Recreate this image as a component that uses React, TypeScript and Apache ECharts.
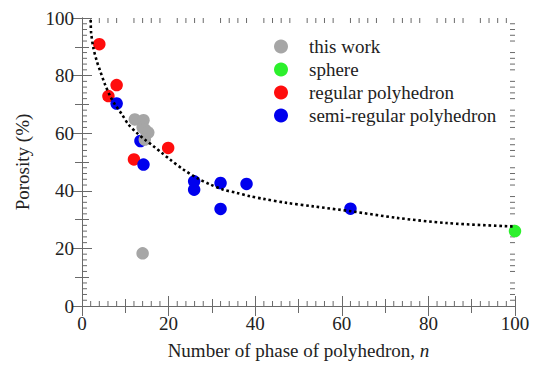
import React, { useEffect, useRef } from "react";
import * as echarts from "echarts";

// n, porosity (%)
const thisWork = [[14, 18.3], [12.2, 64.8], [14.2, 64.5], [14, 62], [14.5, 61.3], [15.3, 60.2], [14.5, 57.8]];
const sphere = [[100, 26]];
const regularPolyhedron = [[4, 90.9], [6.1, 72.9], [8, 76.7], [12, 50.9], [19.9, 54.9]];
const semiRegularPolyhedron = [[8, 70.3], [13.5, 57.3], [14.2, 49.1], [25.9, 43.3], [25.9, 40.4], [32, 42.7], [32, 33.7], [38, 42.4], [62, 33.8]];

// dotted fit curve
const fitN = [2.0, 2.1, 2.6, 3.4, 4.2, 5.3, 6.5, 7.6, 9.2, 10.7, 12.6, 14.5, 16.5, 18.4, 20.3, 23.4, 26.5, 29.6, 32.6, 35.7, 38.8, 41.9, 47.3, 53.4, 62.1, 72.7, 84.2, 99.6];
const fitP = [99.3, 95, 89.8, 85.1, 81.6, 77, 72.9, 70, 66.6, 63.1, 60.2, 57.8, 55.5, 53.2, 50.9, 47.4, 44.5, 42.2, 40.4, 39.3, 38.1, 37.2, 35.8, 34.6, 32.9, 30.6, 28.8, 27.6];

// minor tick positions (both axes, 0–100)
const minorTicks = [2, 4, 6, 8, 12, 14, 16, 18, 22, 24, 26, 28, 32, 34, 36, 38, 42, 44, 46, 48, 52, 54, 56, 58, 62, 64, 66, 68, 72, 74, 76, 78, 82, 84, 86, 88, 92, 94, 96, 98];

const legendNames = ["this work", "sphere", "regular polyhedron", "semi-regular polyhedron"];
const xTitle = "Number of phase of polyhedron, {i|n}";
const yTitle = "Porosity (%)";

const FONT = "Liberation Serif";
const AXIS = "#6a6a6a";
const TEXT = "#222";
const MINOR_LEN = 5;

function axisSet(dim: "x" | "y") {
  const isX = dim === "x";
  const main = isX ? "bottom" : "left";
  const opp = isX ? "top" : "right";
  const base = { type: "value", min: 0, max: 100, splitLine: { show: false } };
  const ticks = (pos: string, interval: number, length: number, line: boolean) => ({
    ...base,
    position: pos,
    interval,
    axisLine: { show: line, lineStyle: { color: AXIS, width: 1 } },
    axisTick: { show: true, inside: true, length, lineStyle: { color: AXIS, width: 1 } },
    axisLabel: { show: false },
  });
  const labelled = {
    ...ticks(main, 20, 10, true),
    axisLabel: { show: true, fontSize: 19, fontFamily: FONT, color: TEXT, margin: 8 },
    name: isX ? xTitle : yTitle,
    nameLocation: "middle",
    nameGap: isX ? 35 : 50,
    nameTextStyle: {
      fontSize: 19,
      fontFamily: FONT,
      color: TEXT,
      rich: { i: { fontStyle: "italic", fontSize: 19, fontFamily: FONT, color: TEXT } },
    },
  };
  return [
    labelled,
    ticks(main, 10, 7, false),
    ticks(opp, 20, 10, true),
    ticks(opp, 10, 7, false),
  ];
}

export default function App() {
  const ref = useRef<HTMLDivElement>(null);
  useEffect(() => {
    if (!ref.current) return;
    const chart = echarts.init(ref.current, undefined, { renderer: "svg" });
    const scatter = (name: string, data: number[][], color: string, z: number) => ({
      name,
      type: "scatter",
      data,
      symbol: "circle",
      symbolSize: 12.5,
      itemStyle: { color, opacity: 1 },
      z,
    });
    const tickStyle = { stroke: AXIS, lineWidth: 1 };
    chart.setOption({
      animation: false,
      backgroundColor: "#fff",
      grid: { left: 82, right: 22, top: 18, bottom: 69, containLabel: false },
      xAxis: axisSet("x"),
      yAxis: axisSet("y"),
      legend: {
        show: true,
        data: legendNames,
        orient: "vertical",
        left: 269,
        top: 32,
        itemWidth: 46,
        itemHeight: 14,
        itemGap: 4,
        icon: "circle",
        textStyle: { fontSize: 19, fontFamily: FONT, color: TEXT, lineHeight: 18 },
      },
      series: [
        {
          name: "minor ticks",
          type: "custom",
          coordinateSystem: "cartesian2d",
          silent: true,
          clip: false,
          z: 1,
          data: minorTicks.map((v) => [v, v]),
          renderItem: (_params: any, api: any) => {
            const v = api.value(0);
            const [x] = api.coord([v, 0]);
            const [, y] = api.coord([0, v]);
            const [x0, yb] = api.coord([0, 0]);
            const [x1, yt] = api.coord([100, 100]);
            return {
              type: "group",
              children: [
                { type: "line", shape: { x1: x, y1: yb, x2: x, y2: yb - MINOR_LEN }, style: tickStyle },
                { type: "line", shape: { x1: x, y1: yt, x2: x, y2: yt + MINOR_LEN }, style: tickStyle },
                { type: "line", shape: { x1: x0, y1: y, x2: x0 + MINOR_LEN, y2: y }, style: tickStyle },
                { type: "line", shape: { x1: x1, y1: y, x2: x1 - MINOR_LEN, y2: y }, style: tickStyle },
              ],
            };
          },
        },
        scatter(legendNames[2], regularPolyhedron, "#ff0d0d", 2),
        scatter(legendNames[3], semiRegularPolyhedron, "#0000ee", 3),
        scatter(legendNames[1], sphere, "#2cf02c", 3),
        scatter(legendNames[0], thisWork, "#a6a6a6", 4),
        {
          name: "fit",
          type: "line",
          data: fitN.map((n, i) => [n, fitP[i]]),
          symbol: "none",
          showSymbol: false,
          smooth: 0.3,
          lineStyle: { color: "#000", width: 2.6, type: [2.6, 2.8], cap: "butt" },
          z: 6,
        },
      ],
    });
    return () => chart.dispose();
  }, []);
  return (
    <div
      ref={ref}
      style={{ position: "fixed", left: 0, top: 0, width: 537, height: 375, background: "#fff" }}
    />
  );
}
